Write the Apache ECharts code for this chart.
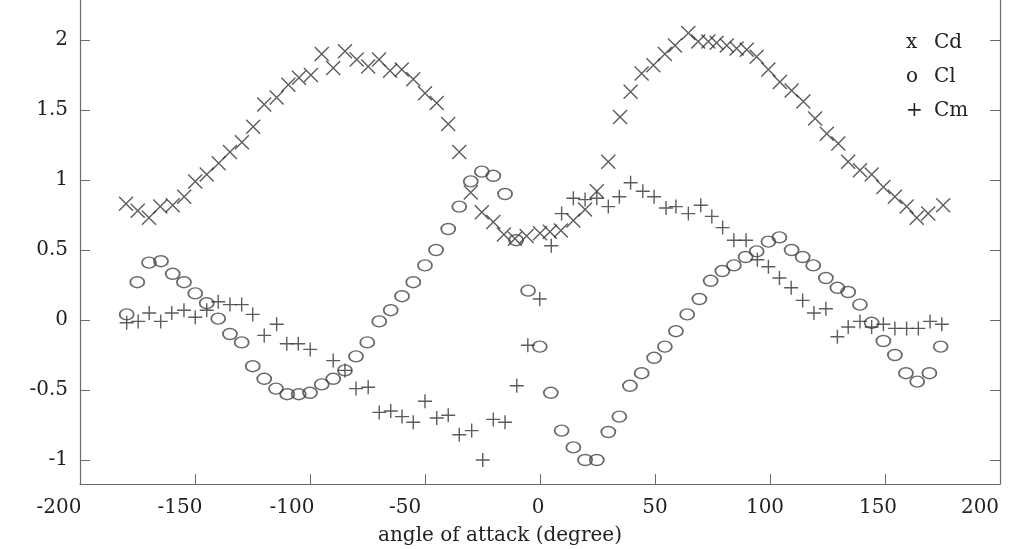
<!DOCTYPE html>
<html>
<head>
<meta charset="utf-8">
<script src="https://cdn.jsdelivr.net/npm/echarts@6/dist/echarts.min.js"></script>
<style>
  html, body { margin: 0; padding: 0; background: #ffffff; }
  #chart { width: 1015px; height: 549px; }
</style>
</head>
<body>
<div id="chart"></div>
<script>
// ---- data (angle of attack in degrees, coefficient) ----
const cdPoints = [
  [-180.0,0.83],[-174.9,0.78],[-170.0,0.73],[-165.1,0.81],[-159.7,0.82],[-154.7,0.88],
  [-149.9,0.99],[-144.9,1.04],[-139.7,1.12],[-134.8,1.20],[-129.6,1.27],[-124.7,1.38],
  [-119.9,1.54],[-114.5,1.59],[-109.4,1.68],[-104.8,1.73],[-99.6,1.75],[-94.9,1.90],
  [-89.9,1.80],[-84.8,1.92],[-79.7,1.86],[-74.7,1.81],[-70.0,1.86],[-65.2,1.78],
  [-60.1,1.79],[-55.1,1.72],[-50.0,1.62],[-44.9,1.55],[-39.9,1.40],[-35.1,1.20],
  [-30.1,0.91],[-25.3,0.77],[-20.3,0.70],[-15.7,0.61],[-10.9,0.58],[-5.8,0.60],
  [0.0,0.62],[4.3,0.63],[9.1,0.64],[14.5,0.71],[19.6,0.79],[24.7,0.92],
  [29.7,1.13],[34.8,1.45],[39.4,1.63],[44.2,1.76],[49.3,1.82],[54.3,1.90],
  [58.7,1.96],[64.5,2.05],[68.8,1.99],[73.2,1.99],[76.8,1.98],[81.2,1.96],
  [85.5,1.94],[89.9,1.93],[94.2,1.88],[99.3,1.79],[104.3,1.70],[109.4,1.64],
  [114.5,1.56],[119.6,1.44],[124.7,1.33],[129.7,1.26],[134.0,1.13],[139.1,1.07],
  [144.2,1.04],[149.3,0.95],[154.3,0.88],[159.4,0.81],[163.8,0.73],[168.8,0.76],
  [175.3,0.82]
];
const clPoints = [
  [-179.7,0.04],[-175.1,0.27],[-170.0,0.41],[-164.8,0.42],[-159.7,0.33],[-154.8,0.27],
  [-149.9,0.19],[-144.9,0.12],[-139.9,0.01],[-134.8,-0.10],[-129.7,-0.16],[-124.9,-0.33],
  [-119.9,-0.42],[-114.8,-0.49],[-109.9,-0.53],[-104.9,-0.53],[-100.0,-0.52],[-94.9,-0.46],
  [-89.9,-0.42],[-84.8,-0.36],[-80.0,-0.26],[-75.1,-0.16],[-69.9,-0.01],[-64.9,0.07],
  [-60.0,0.17],[-55.1,0.27],[-50.0,0.39],[-45.2,0.50],[-39.9,0.65],[-35.1,0.81],
  [-30.1,0.99],[-25.3,1.06],[-20.3,1.03],[-15.2,0.90],[-10.4,0.57],[-5.2,0.21],
  [-0.1,-0.19],[4.7,-0.52],[9.4,-0.79],[14.5,-0.91],[19.6,-1.00],[24.7,-1.00],
  [29.7,-0.80],[34.5,-0.69],[39.1,-0.47],[44.2,-0.38],[49.6,-0.27],[54.3,-0.19],
  [59.1,-0.08],[64.0,0.04],[69.3,0.15],[74.2,0.28],[79.3,0.35],[84.3,0.39],
  [89.4,0.45],[94.2,0.49],[99.3,0.56],[104.1,0.59],[109.4,0.50],[114.2,0.45],
  [118.8,0.39],[124.3,0.30],[129.3,0.23],[134.0,0.20],[139.1,0.11],[144.2,-0.02],
  [149.3,-0.15],[154.3,-0.25],[159.1,-0.38],[164.0,-0.44],[169.3,-0.38],[174.2,-0.19]
];
const cmPoints = [
  [-179.7,-0.02],[-174.7,-0.01],[-169.9,0.05],[-164.9,-0.01],[-160.1,0.05],[-154.8,0.07],
  [-149.9,0.02],[-144.9,0.07],[-139.9,0.13],[-134.8,0.11],[-129.7,0.11],[-124.9,0.04],
  [-119.9,-0.11],[-114.5,-0.03],[-110.1,-0.17],[-105.1,-0.17],[-99.9,-0.21],[-89.9,-0.29],
  [-84.8,-0.36],[-80.0,-0.49],[-74.7,-0.48],[-69.9,-0.66],[-64.9,-0.65],[-60.0,-0.69],
  [-55.1,-0.73],[-50.0,-0.58],[-44.9,-0.70],[-39.9,-0.68],[-35.1,-0.82],[-29.7,-0.79],
  [-24.9,-1.00],[-20.3,-0.71],[-15.2,-0.73],[-10.1,-0.47],[-5.3,-0.18],[-0.1,0.15],
  [4.9,0.53],[9.4,0.76],[14.5,0.87],[19.6,0.86],[24.7,0.87],[29.7,0.81],
  [34.5,0.88],[39.4,0.98],[44.7,0.92],[49.6,0.88],[54.8,0.80],[59.1,0.81],
  [64.5,0.76],[69.9,0.82],[74.7,0.74],[79.4,0.66],[84.3,0.57],[89.6,0.57],
  [94.5,0.43],[99.3,0.38],[104.1,0.30],[109.2,0.23],[114.2,0.14],[119.1,0.05],
  [124.3,0.08],[129.3,-0.12],[134.0,-0.05],[139.1,-0.01],[144.2,-0.05],[149.3,-0.03],
  [154.3,-0.06],[159.4,-0.06],[164.5,-0.06],[169.6,-0.01],[174.7,-0.03]
];
const xTicks = [-200, -150, -100, -50, 0, 50, 100, 150, 200];
const yTicks = [-1, -0.5, 0, 0.5, 1, 1.5, 2];
const legendMarks = ['x', 'o', '+'];
const legendNames = ['Cd', 'Cl', 'Cm'];
const xTitle = 'angle of attack (degree)';

// ---- chart ----
const FONT = '"DejaVu Serif", "Liberation Serif", serif';
const axisColor = '#6a6a6a';
const textColor = '#222';
const markColor = '#333';
const yMin = -1.1714, yMax = 2.2857;

// horizontal nudges of the x tick labels (pixels, negative = left), as seen in the scan
const xLabelNudge = [-21, -15, -18, -20, -2, 0, -5, -7, -20];
const xRich = {};
xTicks.forEach((t, i) => {
  const d = xLabelNudge[i];
  xRich['t' + i] = {
    fontFamily: FONT, fontSize: 20, color: textColor,
    padding: d < 0 ? [0, -2 * d, 0, 0] : [0, 0, 0, 2 * d]
  };
});

const chart = echarts.init(document.getElementById('chart'), null, { renderer: 'canvas' });

const legendGraphics = [];
legendMarks.forEach((m, i) => {
  legendGraphics.push({
    type: 'text', left: 906, top: 33 + i * 34,
    style: { text: m, font: '20px ' + FONT, fill: textColor }
  });
  legendGraphics.push({
    type: 'text', left: 934, top: 33 + i * 34,
    style: { text: legendNames[i], font: '20px ' + FONT, fill: textColor }
  });
});

const yAxisBase = {
  type: 'value', min: yMin, max: yMax,
  splitLine: { show: false },
  axisLine: { show: true, onZero: false, lineStyle: { color: axisColor, width: 1.2 } },
  axisTick: { show: true, inside: true, length: 10, customValues: yTicks, lineStyle: { color: axisColor } }
};

chart.setOption({
  animation: false,
  backgroundColor: '#ffffff',
  grid: { left: 80, right: 15, top: 0, bottom: 65, outerBoundsMode: 'none', containLabel: false },
  xAxis: {
    type: 'value', min: -200, max: 200, interval: 50,
    splitLine: { show: false },
    axisLine: { show: true, onZero: false, lineStyle: { color: axisColor, width: 1.2 } },
    axisTick: { show: true, inside: true, length: 10, lineStyle: { color: axisColor } },
    axisLabel: {
      fontFamily: FONT, fontSize: 20, color: textColor, margin: 14,
      formatter: v => {
        const i = xTicks.indexOf(v);
        return i >= 0 ? '{t' + i + '|' + v + '}' : String(v);
      },
      rich: xRich
    },
    name: xTitle, nameLocation: 'middle', nameGap: 42,
    nameTextStyle: { fontFamily: FONT, fontSize: 20, color: textColor, padding: [0, 80, 0, 0] }
  },
  yAxis: [
    Object.assign({}, yAxisBase, {
      position: 'left',
      axisLabel: { show: true, customValues: yTicks, fontFamily: FONT, fontSize: 20, color: textColor, margin: 12,
        formatter: v => String(v) }
    }),
    Object.assign({}, yAxisBase, {
      position: 'right',
      axisLabel: { show: false }
    })
  ],
  graphic: legendGraphics,
  series: [
    {
      name: 'Cd', type: 'scatter', data: cdPoints,
      symbol: 'path://M0,0L10,10M10,0L0,10', symbolSize: 14,
      itemStyle: { color: 'rgba(0,0,0,0)', borderColor: markColor, borderWidth: 1.4 }
    },
    {
      name: 'Cl', type: 'scatter', data: clPoints,
      symbol: 'circle', symbolSize: [14, 11],
      itemStyle: { color: 'rgba(0,0,0,0)', borderColor: '#444', borderWidth: 1.6 }
    },
    {
      name: 'Cm', type: 'scatter', data: cmPoints,
      symbol: 'path://M5,0L5,10M0,5L10,5', symbolSize: 14,
      itemStyle: { color: 'rgba(0,0,0,0)', borderColor: markColor, borderWidth: 1.4 }
    }
  ]
});
</script>
</body>
</html>
